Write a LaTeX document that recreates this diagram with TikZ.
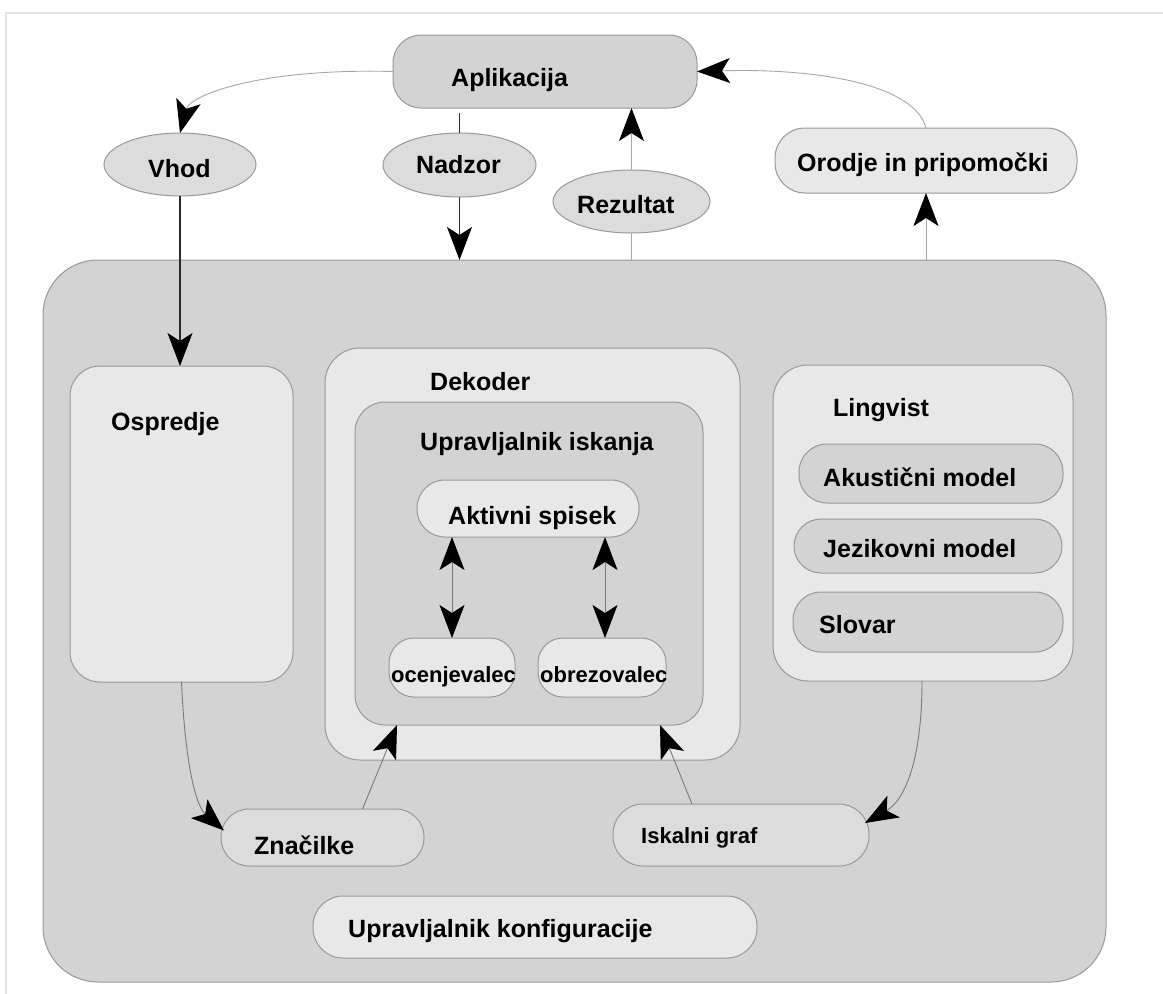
\documentclass[tikz,border=0pt]{standalone}
\usepackage{fontspec}
\setmainfont{Liberation Sans}
\usetikzlibrary{arrows.meta,shapes.geometric,calc}
\definecolor{bgdark}{HTML}{D3D3D3}
\definecolor{bglight}{HTML}{E8E8E8}
\definecolor{bgmid}{HTML}{DCDCDC}
\definecolor{edgec}{HTML}{999999}
\definecolor{framec}{HTML}{E2E2E2}
\definecolor{connc}{HTML}{7A7A7A}
\definecolor{connlight}{HTML}{A8A8A8}
\definecolor{conndark}{HTML}{2A2A2A}
\tikzset{
  bigtip/.tip={Stealth[length=33pt,width=25pt,inset=8pt,color=black]},
  box/.style={draw=edgec, line width=1pt, rectangle, inner sep=0pt, outer sep=0pt},
  oval/.style={draw=edgec, line width=1pt, ellipse, inner sep=0pt, outer sep=0pt},
  lbl/.style={anchor=base west, inner sep=0pt, font=\bfseries\fontsize{25}{30}\selectfont},
  slbl/.style={anchor=base west, inner sep=0pt, font=\bfseries\fontsize{22}{26}\selectfont},
  thinconn/.style={draw=connc, line width=0.9pt},
  lightconn/.style={draw=connlight, line width=0.9pt},
  darkconn/.style={draw=conndark, line width=1.3pt}
}
\begin{document}
\begin{tikzpicture}[x=1pt,y=-1pt]
\useasboundingbox (0,0) rectangle (1163,994);
\fill[white] (0,0) rectangle (1163,994);
\draw[framec, line width=1.5pt] (6,994) -- (6,13) -- (1163,13);

% top nodes
\node[box, fill=bgdark, rounded corners=28pt, minimum width=304pt, minimum height=73pt] (apl) at (545,71.5) {};
\node[lbl] (aplt) at (451,86) {Aplikacija};
\node[oval, fill=bgmid, minimum width=152pt, minimum height=63pt] (vhod) at (180,164.5) {};
\node[lbl] (vhodt) at (148,177) {Vhod};
\node[oval, fill=bgmid, minimum width=153pt, minimum height=64pt] (nadzor) at (459.5,165) {};
\node[lbl] (nadzort) at (416,173) {Nadzor};
\node[oval, fill=bgmid, minimum width=157pt, minimum height=63pt] (rez) at (631.5,201.5) {};
\node[lbl] (rezt) at (577,213) {Rezultat};
\node[box, fill=bglight, rounded corners=30pt, minimum width=302pt, minimum height=65pt] (orodje) at (926,160.5) {};
\node[lbl] (orodjet) at (797,171) {Orodje in pripomočki};

% big container
\node[box, fill=bgdark, rounded corners=55pt, minimum width=1063pt, minimum height=722pt] (big) at (574.5,621) {};

% Ospredje
\node[box, fill=bglight, rounded corners=30pt, minimum width=223pt, minimum height=316pt] (ospredje) at (181.5,524) {};
\node[lbl] (ospredjet) at (111,430) {Ospredje};

% Dekoder
\node[box, fill=bglight, rounded corners=35pt, minimum width=415pt, minimum height=412pt] (dekoder) at (532.5,554) {};
\node[lbl] (dekodert) at (430,390) {Dekoder};
\node[box, fill=bgdark, rounded corners=30pt, minimum width=348pt, minimum height=323pt] (upri) at (529,563.5) {};
\node[lbl] (uprit) at (420,450) {Upravljalnik iskanja};
\node[box, fill=bglight, rounded corners=28pt, minimum width=222pt, minimum height=57pt] (aktivni) at (528,508.5) {};
\node[lbl] (aktivnit) at (448,524) {Aktivni spisek};
\node[box, fill=bglight, rounded corners=25pt, minimum width=126pt, minimum height=59pt] (ocen) at (452,667.5) {};
\node[slbl] (ocent) at (391,682) {ocenjevalec};
\node[box, fill=bglight, rounded corners=25pt, minimum width=128pt, minimum height=59pt] (obrez) at (602,667.5) {};
\node[slbl] (obrezt) at (540,682) {obrezovalec};

% Lingvist
\node[box, fill=bglight, rounded corners=35pt, minimum width=300pt, minimum height=316pt] (ling) at (923,523) {};
\node[lbl] (lingt) at (833,416) {Lingvist};
\node[box, fill=bgdark, rounded corners=28pt, minimum width=264pt, minimum height=59pt] (akus) at (931,473.5) {};
\node[lbl] (akust) at (823,486) {Akustični model};
\node[box, fill=bgdark, rounded corners=27pt, minimum width=268pt, minimum height=54pt] (jez) at (928,546) {};
\node[lbl] (jezt) at (823,557) {Jezikovni model};
\node[box, fill=bgdark, rounded corners=28pt, minimum width=270pt, minimum height=60pt] (slovar) at (928,622) {};
\node[lbl] (slovart) at (819,633) {Slovar};

% bottom nodes
\node[box, fill=bgmid, rounded corners=28pt, minimum width=203pt, minimum height=57pt] (znac) at (322.5,837.5) {};
\node[lbl] (znact) at (254,854) {Značilke};
\node[box, fill=bgmid, rounded corners=30pt, minimum width=256pt, minimum height=62pt] (isk) at (741,835) {};
\node[slbl] (iskt) at (641,843) {Iskalni graf};
\node[box, fill=bglight, rounded corners=30pt, minimum width=444pt, minimum height=62pt] (konf) at (535,927) {};
\node[lbl] (konft) at (348,937) {Upravljalnik konfiguracije};

% connectors top
\draw[lightconn, -bigtip] (apl.west) .. controls (260,68) and (190,95) .. (vhod.north);
\draw[lightconn, -bigtip] (orodje.north) .. controls (915,85) and (820,68) .. (apl.east);
\draw[darkconn] (nadzor.north) -- ([yshift=-5pt]nadzor.north |- apl.south);
\draw[darkconn, -bigtip] (nadzor.south) -- (nadzor.south |- big.north);
\draw[lightconn] (rez.south |- big.north) -- (rez.south);
\draw[lightconn, -bigtip] (rez.north) -- (rez.north |- apl.south);
\draw[lightconn, -bigtip] (orodje.south |- big.north) -- (orodje.south);
\draw[darkconn, -bigtip] (vhod.south) -- (vhod.south |- ospredje.north);

% inner connectors
\draw[thinconn, bigtip-bigtip] (ocen.north |- aktivni.south) -- (ocen.north);
\draw[thinconn, bigtip-bigtip] ([xshift=3pt]obrez.north |- aktivni.south) -- ([xshift=3pt]obrez.north);

% bottom connectors
\draw[thinconn, -bigtip] (ospredje.south) .. controls (185,760) and (195,805) .. ([xshift=3pt,yshift=7pt]znac.west);
\draw[thinconn, -bigtip] ([xshift=-1pt]ling.south) .. controls (922,760) and (905,800) .. ([xshift=-4pt,yshift=12pt]isk.east);
\draw[thinconn, -bigtip] ([xshift=40pt]znac.north) -- ([xshift=-132pt]upri.south);
\draw[thinconn, -bigtip] ([xshift=-49pt]isk.north) -- ([xshift=131pt]upri.south);
\end{tikzpicture}
\end{document}
